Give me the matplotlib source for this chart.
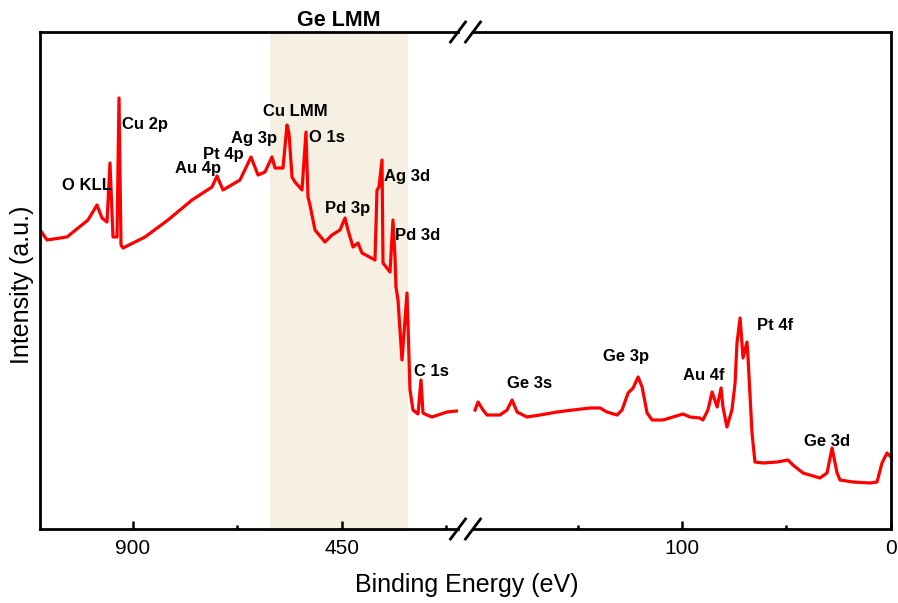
"""XPS 全谱 — 断轴折线图 (1100→200 eV | 200→0 eV)"""

import matplotlib
matplotlib.use("Agg")
import matplotlib.pyplot as plt
from matplotlib.transforms import blended_transform_factory

plt.rcParams["font.family"] = ["Liberation Sans", "DejaVu Sans"]

# ====== 数据 ======

# 高结合能段 (eV, a.u.)
be_high = [1100, 1084.9, 1041.9, 996.7, 977.3, 966.5, 955.7, 949.3, 942.8, 934.2,
           929.9, 925.6, 921.3, 873.9, 824.4, 772.7, 729.7, 718.9, 706.0, 669.4,
           645.7, 630.6, 615.6, 600.5, 594.0, 576.8, 568.2, 563.9, 557.4, 551.0,
           535.9, 527.3, 523.0, 518.7, 514.4, 507.9, 486.4, 471.3, 454.1, 443.3,
           436.9, 426.1, 415.3, 406.7, 378.7, 374.4, 370.1, 363.6, 361.5, 346.4,
           340.0, 335.7, 333.5, 329.2, 320.6, 309.8, 307.7, 303.4, 296.9, 286.1,
           279.7, 275.4, 266.7, 256.0, 223.7, 202.2]
int_high = [299, 289, 292, 309, 324, 311, 307, 366, 292, 292,
            431, 284, 281, 292, 309, 329, 342, 353, 339, 349,
            372, 354, 357, 372, 361, 361, 404, 396, 352, 347,
            339, 397, 332, 324, 314, 299, 287, 294, 299, 311,
            299, 282, 286, 276, 269, 339, 342, 369, 266, 257,
            309, 272, 242, 229, 169, 236, 206, 139, 119, 115,
            149, 116, 114, 112, 117, 118]

# 低结合能段
be_low = [199.0, 197.6, 195.2, 193.3, 187.1, 183.7, 181.3, 178.9, 174.2, 167.9,
          159.8, 152.2, 144.0, 139.2, 135.9, 131.1, 128.7, 125.8, 123.4, 121.0,
          119.1, 116.7, 114.3, 109.1, 104.3, 99.5, 96.2, 91.4, 90.0, 87.6,
          85.6, 83.2, 81.3, 80.4, 78.5, 76.1, 74.6, 73.7, 72.2, 70.8,
          68.9, 68.4, 66.5, 65.1, 61.2, 54.5, 49.3, 46.9, 42.1, 34.0,
          30.6, 28.2, 25.8, 24.4, 18.2, 10.0, 6.7, 4.3, 1.9, 0.0]
int_low = [119, 127, 119, 114, 114, 119, 129, 117, 112, 114,
           117, 119, 121, 121, 117, 114, 119, 136, 141, 152,
           142, 116, 109, 109, 112, 115, 112, 111, 109, 119,
           137, 122, 141, 122, 102, 119, 146, 186, 211, 171,
           187, 171, 96, 67, 66, 67, 69, 64, 56, 51,
           56, 81, 56, 49, 47, 46, 47, 66, 76, 72]

# 峰标注
labels_high = ["O KLL", "Cu 2p", "Au 4p", "Pt 4p", "Ag 3p", "Cu LMM",
               "O 1s", "Pd 3p", "Ag 3d", "Pd 3d", "C 1s"]
labels_low = ["Ge 3s", "Ge 3p", "Au 4f", "Pt 4f", "Ge 3d"]

# Ge LMM 俄歇区间 (eV)
ge_lmm_span = (605, 308)

# ====== 画图 ======

RED = "#FF0000"
W, H = 898, 603

fig = plt.figure(figsize=(W / 100, H / 100), dpi=100)
ax1 = fig.add_axes([40 / W, 74 / H, 418 / W, 497 / H])
ax2 = fig.add_axes([473 / W, 74 / H, 418 / W, 497 / H])

ax1.axvspan(*ge_lmm_span, color="#F6F0E3", lw=0, zorder=0)
ax1.plot(be_high, int_high, color=RED, lw=2.3, solid_joinstyle="round")
ax2.plot(be_low, int_low, color=RED, lw=2.3, solid_joinstyle="round")

ax1.set_xlim(1100, 200)
ax2.set_xlim(200, 0)
for ax in (ax1, ax2):
    ax.set_ylim(0, 497)
    ax.set_yticks([])
    for s in ax.spines.values():
        s.set_linewidth(2.0)
    ax.tick_params(axis="x", which="major", direction="in", length=6,
                   width=1.8, labelsize=15, pad=7)
    ax.tick_params(axis="x", which="minor", direction="in", length=3, width=1.8)

ax1.set_xticks([900, 450])
ax1.set_xticks([675, 225], minor=True)
ax2.set_xticks([100, 0])
ax2.set_xticks([150, 50], minor=True)
ax1.spines["right"].set_visible(False)
ax2.spines["left"].set_visible(False)

# 断轴标记 //
dx, dy = 7.5 / 418, 10 / 497
for ax, xb in ((ax1, 1.0), (ax2, 0.0)):
    for yb in (0.0, 1.0):
        ax.plot([xb - dx, xb + dx], [yb - dy, yb + dy], color="black",
                lw=2.0, transform=ax.transAxes, clip_on=False)

# 峰标注
pos_high = [(1052.6, 343), (923.4, 405), (809.3, 360), (749.0, 374),
            (688.8, 390), (619.9, 418), (520.8, 392), (486.4, 320),
            (359.3, 352), (335.6, 293), (294.7, 158)]
pos_low = [(183.7, 146), (137.8, 173), (99.5, 153), (64.1, 203), (41.6, 87)]
for ax, names, pos in ((ax1, labels_high, pos_high), (ax2, labels_low, pos_low)):
    for name, (x, y) in zip(names, pos):
        ax.text(x, y, name, fontsize=12, fontweight="bold",
                ha="left", va="center")

trans = blended_transform_factory(ax1.transData, ax1.transAxes)
ax1.text(sum(ge_lmm_span) / 2, 1.024, "Ge LMM", transform=trans,
         fontsize=15.5, fontweight="bold", ha="center", va="center")

fig.text(22 / W, 1 - 285 / H, "Intensity (a.u.)", rotation=90,
         fontsize=18, ha="center", va="center")
fig.text(467 / W, 1 - 585 / H, "Binding Energy (eV)",
         fontsize=18, ha="center", va="center")

fig.savefig("out.png", dpi=100)
plt.close(fig)
